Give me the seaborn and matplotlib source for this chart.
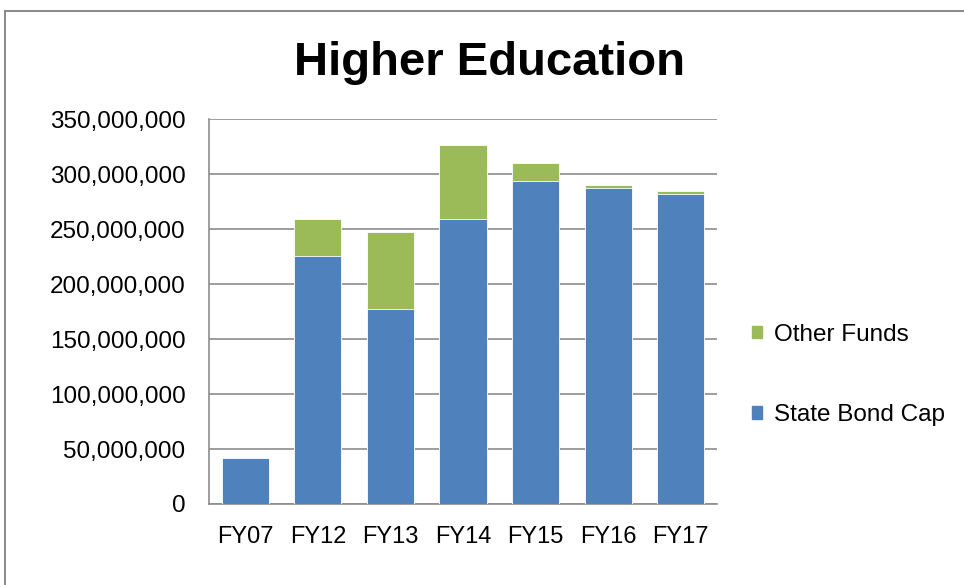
import numpy as np
import pandas as pd
import matplotlib
matplotlib.use('Agg')
import matplotlib.pyplot as plt
import matplotlib.patches as mpatches
import seaborn as sns

years = ['FY07', 'FY12', 'FY13', 'FY14', 'FY15', 'FY16', 'FY17']
state_bond_cap = [42200000, 225900000, 177600000, 259600000, 293500000, 287800000, 281700000]
other_funds = [0, 33700000, 70100000, 66700000, 16400000, 2100000, 2700000]

blue = '#4F81BD'
green = '#9BBB59'

sns.set_style('white')
plt.rcParams['font.family'] = ['Liberation Sans', 'DejaVu Sans']
plt.rcParams['text.color'] = 'black'

df = pd.DataFrame({'Year': years, 'State Bond Cap': state_bond_cap, 'Other Funds': other_funds})
df['Total'] = df['State Bond Cap'] + df['Other Funds']

fig = plt.figure(figsize=(9.64, 5.85), dpi=100)
ax = fig.add_axes([209/964, 1 - 504/585, (717-209)/964, (504-119.3)/585])

# green = total, blue drawn over it -> stacked look
sns.barplot(data=df, x='Year', y='Total', color=green, width=0.65, saturation=1,
            edgecolor='white', linewidth=0.6, ax=ax, zorder=3)
sns.barplot(data=df, x='Year', y='State Bond Cap', color=blue, width=0.65, saturation=1,
            edgecolor='white', linewidth=0.6, ax=ax, zorder=3)

ax.set_ylim(0, 350000000)
ax.set_xlim(-0.5, len(years) - 0.5)
ax.set_yticks(np.arange(0, 350000001, 50000000))
ax.yaxis.set_major_formatter(matplotlib.ticker.FuncFormatter(lambda v, p: f'{int(v):,}'))
ax.grid(axis='y', color='#8C8C8C', linewidth=1.2, zorder=0)
ax.set_axisbelow(True)
for side in ['top', 'right']:
    ax.spines[side].set_visible(False)
for side in ['left', 'bottom']:
    ax.spines[side].set_color('#8C8C8C')
    ax.spines[side].set_linewidth(1.2)
ax.tick_params(axis='y', labelsize=17.5, colors='black', length=0, pad=17)
ax.tick_params(axis='x', labelsize=17, colors='black', length=0, pad=16)
ax.set_xlabel('')
ax.set_ylabel('')

fig.text(490/964, 1 - 63/585, 'Higher Education', ha='center', va='center',
         fontsize=34, fontweight='bold', color='black')

handles = [mpatches.Patch(color=green, label='Other Funds'),
           mpatches.Patch(color=blue, label='State Bond Cap')]
fig.legend(handles=handles, loc='center left', bbox_to_anchor=(752/964, 1 - 375/585),
           frameon=False, fontsize=17.5, handlelength=0.4, handleheight=0.4,
           handletextpad=0.5, labelspacing=2.4, borderaxespad=0, borderpad=0)

frame = mpatches.Rectangle((5/964, -0.05), 1.2, 1 - 11/585 + 0.05, transform=fig.transFigure,
                           fill=False, edgecolor='#8C8C8C', linewidth=1.5)
fig.add_artist(frame)

fig.savefig('out.png', dpi=100)
